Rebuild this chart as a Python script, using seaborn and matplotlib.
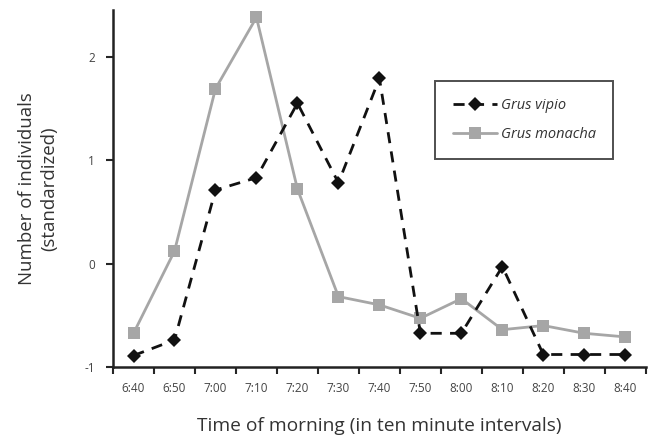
import numpy as np
import pandas as pd
import matplotlib
matplotlib.use("Agg")
import matplotlib.pyplot as plt
import seaborn as sns

times = ["6:40", "6:50", "7:00", "7:10", "7:20", "7:30", "7:40",
         "7:50", "8:00", "8:10", "8:20", "8:30", "8:40"]
grus_vipio = [-0.89, -0.74, 0.71, 0.83, 1.55, 0.78, 1.79,
              -0.675, -0.675, -0.03, -0.88, -0.88, -0.88]
grus_monacha = [-0.675, 0.12, 1.69, 2.38, 0.72, -0.32, -0.40,
                -0.53, -0.34, -0.64, -0.60, -0.675, -0.71]
y_ticks = [-1, 0, 1, 2]


def main():
    sns.set_style("ticks")
    plt.rcParams["font.family"] = ["Open Sans", "DejaVu Sans"]

    pos = np.arange(len(times))
    df = pd.DataFrame({"pos": pos, "vipio": grus_vipio, "monacha": grus_monacha})

    fig = plt.figure(figsize=(6.59, 4.41), dpi=100)
    ax = fig.add_axes([0.1715, 0.168, 0.8085, 0.809])

    sns.lineplot(data=df, x="pos", y="monacha", ax=ax, color="#a6a6a6",
                 linewidth=2, marker="s", markersize=8, markeredgewidth=0,
                 label="Grus monacha")
    sns.lineplot(data=df, x="pos", y="vipio", ax=ax, color="#111111",
                 linewidth=2, marker="D", markersize=7, markeredgewidth=0,
                 dashes=(4, 3), label="Grus vipio")

    ax.set_xlim(-0.5, len(times) - 0.5)
    ax.set_ylim(-1, 2.45)
    ax.set_yticks(y_ticks)
    ax.set_yticklabels([str(t) for t in y_ticks], fontsize=8.5, color="#444444")

    # ticks between categories, labels centred on them
    ax.set_xticks(np.arange(-0.5, len(times), 1.0))
    ax.set_xticklabels([])
    ax.set_xticks(pos, minor=True)
    ax.set_xticklabels(times, minor=True, fontsize=8.5, color="#444444")
    ax.tick_params(axis="x", which="minor", length=0, pad=11)
    ax.tick_params(axis="x", which="major", length=5, width=1.5, direction="out")
    ax.tick_params(axis="y", length=5, width=1.5, direction="out", pad=8)

    for side in ["top", "right"]:
        ax.spines[side].set_visible(False)
    for side in ["left", "bottom"]:
        ax.spines[side].set_linewidth(1.8)
        ax.spines[side].set_color("#222222")

    ax.set_xlabel("Time of morning (in ten minute intervals)", fontsize=13.8,
                  color="#333333", labelpad=16)
    ax.set_ylabel("Number of individuals\n(standardized)", fontsize=13.4,
                  color="#333333", labelpad=19, linespacing=1.25)

    handles, labels = ax.get_legend_handles_labels()
    leg = ax.legend(handles[::-1], labels[::-1], loc="center",
                    bbox_to_anchor=(0.772, 0.692), frameon=True, fancybox=False,
                    handlelength=3.0, handletextpad=0.3, borderpad=1.2,
                    labelspacing=0.95, borderaxespad=0,
                    prop={"style": "italic", "size": 10.5})
    leg.get_frame().set_edgecolor("#222222")
    leg.get_frame().set_linewidth(1.4)
    for t in leg.get_texts():
        t.set_color("#333333")

    fig.savefig("out.png", dpi=100)
    plt.close(fig)


if __name__ == "__main__":
    main()
